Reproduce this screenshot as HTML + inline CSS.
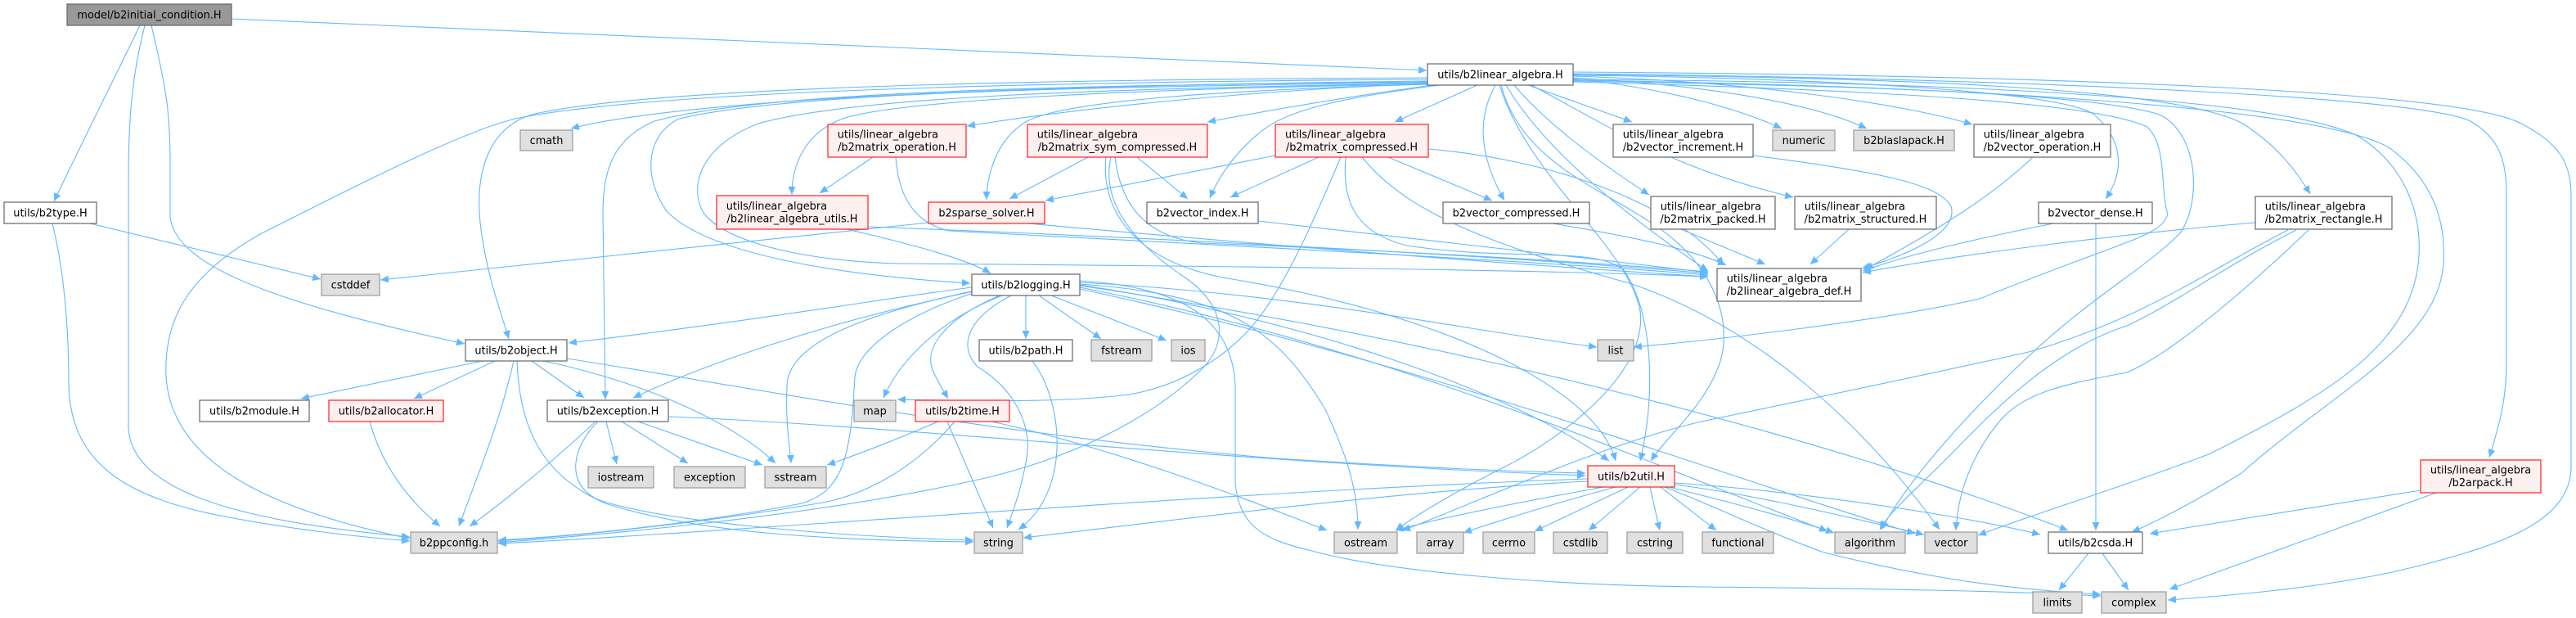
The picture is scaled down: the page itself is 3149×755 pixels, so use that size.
<!DOCTYPE html>
<html><head><meta charset="utf-8"><style>
html,body{margin:0;padding:0;background:#fff;}
svg{display:block;}
text{font-family:"DejaVu Sans","Liberation Sans",sans-serif;font-size:12.9px;fill:#000;}
.e{fill:none;stroke:#63b8ff;stroke-width:1.1;marker-end:url(#a);}
.n{fill:#fff;stroke:#666;stroke-width:1.2;}
.x{fill:#e0e0e0;stroke:#999;stroke-width:1.2;}
.r{fill:#fff0f0;stroke:#ff2020;stroke-width:1.2;}
.root{fill:#999;stroke:#666;stroke-width:1.2;}
</style></head><body>
<svg width="3149" height="755" viewBox="0 0 3149 755" xmlns="http://www.w3.org/2000/svg">
<defs><marker id="a" markerUnits="userSpaceOnUse" markerWidth="11" markerHeight="9" refX="10" refY="4.5" orient="auto"><path d="M0,0 L10,4.5 L0,9 z" fill="#63b8ff"/></marker></defs>
<g>
<!-- root -->
<path class="e" d="M283,23 C800,45 1300,68 1744,86"/>
<path class="e" d="M171,31 C150,75 112,150 66,246"/>
<path class="e" d="M177,31 C162,90 157,140 157,220 L157,520 C157,610 330,640 501,656"/>
<path class="e" d="M185,31 C204,110 208,140 208,200 L208,265 C215,330 360,375 568,420"/>
<!-- b2type -->
<path class="e" d="M110,273 L392,341"/>
<path class="e" d="M64,273 C78,330 84,400 84,470 C86,570 160,610 280,632 C360,647 430,655 501,661"/>
<!-- b2linear_algebra left -->
<path class="e" d="M1745,99 C1300,104 850,118 698,157"/>
<path class="e" d="M1745,97 C1300,100 800,110 630,145 C560,162 420,235 320,285 C230,335 200,390 203,460 C210,570 340,625 501,658"/>
<path class="e" d="M1745,95 C1300,97 800,105 650,140 C592,158 580,220 588,280 C596,340 612,380 622,414"/>
<path class="e" d="M1745,100 C1300,104 930,112 800,148 C748,170 737,210 737,260 L740,488"/>
<path class="e" d="M1745,101 C1300,106 960,114 830,145 C790,165 785,215 815,258 C860,305 1000,335 1186,346"/>
<path class="e" d="M1745,102 C1350,108 1050,118 930,150 C860,175 840,225 860,260 C890,300 1000,320 1100,322 C1500,325 1900,330 2088,338"/>
<path class="e" d="M1745,102 C1500,112 1300,135 1182,154"/>
<path class="e" d="M1745,103 C1400,108 1100,122 1030,145 C985,162 968,200 968,238"/>
<path class="e" d="M1750,104 C1650,118 1550,135 1476,149"/>
<path class="e" d="M1745,103 C1500,110 1320,122 1262,145 C1222,162 1206,210 1206,244"/>
<path class="e" d="M1760,104 C1650,118 1580,132 1545,158 C1512,183 1490,215 1479,242"/>
<!-- b2linear_algebra down -->
<path class="e" d="M1806,104 L1705,149"/>
<path class="e" d="M1828,104 C1808,140 1805,185 1839,245"/>
<path class="e" d="M1868,104 L1995,149"/>
<path class="e" d="M1851,104 C1890,150 1950,195 2016,238"/>
<path class="e" d="M1872,104 C1960,150 2040,205 2192,241"/>
<path class="e" d="M1841,104 C1880,170 1960,245 2088,331"/>
<path class="e" d="M1835,104 C1860,200 1960,230 2030,280 C2100,330 2120,400 2100,450 C2080,500 2040,530 2018,563"/>
<path class="e" d="M1833,104 C1870,220 1990,300 2005,380 C2015,460 1900,540 1840,570 C1780,600 1730,630 1706,648"/>
<!-- b2linear_algebra right -->
<path class="e" d="M1923,96 C2050,110 2130,135 2178,157"/>
<path class="e" d="M1923,95 C2100,105 2220,128 2282,157"/>
<path class="e" d="M1923,93 C2150,100 2330,128 2411,152"/>
<path class="e" d="M1923,92 C2200,95 2520,110 2560,140 C2592,168 2600,205 2574,243"/>
<path class="e" d="M1923,91 C2300,95 2650,105 2740,150 C2780,175 2805,205 2824,237"/>
<path class="e" d="M1923,90 C2400,95 2950,115 3020,148 C3058,170 3064,200 3064,240 L3064,440 C3064,490 3055,520 3043,559"/>
<path class="e" d="M1923,88 C2500,92 3000,110 3080,150 C3130,175 3143,200 3143,240 L3143,570 C3143,640 3050,670 2920,700 C2820,720 2720,728 2650,733"/>
<path class="e" d="M1923,97 C2400,100 2780,120 2880,165 C2940,200 2960,260 2957,313 C2950,420 2850,480 2700,555 C2580,600 2480,630 2418,654"/>
<path class="e" d="M1923,98 C2400,105 2830,130 2920,180 C2975,220 2990,270 2987,322 C2980,420 2850,480 2740,578 C2680,615 2630,640 2606,650"/>
<path class="e" d="M1923,99 C2300,105 2560,115 2640,140 C2690,165 2690,250 2665,285 C2620,330 2560,360 2480,435 C2400,510 2330,590 2300,647"/>
<path class="e" d="M1923,100 C2300,110 2560,125 2625,155 C2650,180 2640,230 2650,262 C2640,290 2600,292 2420,365 C2300,392 2100,415 1997,424"/>
<!-- b2logging -->
<path class="e" d="M1254,361 L1254,414"/>
<path class="e" d="M1270,361 L1346,414"/>
<path class="e" d="M1285,361 L1426,416"/>
<path class="e" d="M1225,361 C1150,390 1100,440 1080,486"/>
<path class="e" d="M1222,361 C1165,385 1128,420 1140,452 C1148,470 1155,480 1159,487"/>
<path class="e" d="M1236,361 C1180,390 1172,425 1195,448 C1240,475 1262,520 1255,560 C1248,600 1238,625 1231,645"/>
<path class="e" d="M1188,351 C1100,362 900,395 695,419"/>
<path class="e" d="M1190,356 C1000,395 850,450 774,486"/>
<path class="e" d="M1192,355 C1050,385 965,420 962,470 C960,520 966,550 967,566"/>
<path class="e" d="M1190,358 C1120,380 1050,420 1045,460 C1040,560 1030,600 980,615 C850,640 700,655 609,660"/>
<path class="e" d="M1320,345 C1600,360 1800,405 1952,424"/>
<path class="e" d="M1320,347 C1500,360 1560,400 1620,500 C1648,560 1660,600 1660,647"/>
<path class="e" d="M1320,348 C1600,390 1850,480 1967,563"/>
<path class="e" d="M1320,351 C1700,425 2000,560 2234,649"/>
<path class="e" d="M1320,353 C1750,445 2100,580 2341,652"/>
<path class="e" d="M1320,349 C1800,420 2250,540 2528,648"/>
<path class="e" d="M1320,343 C1430,350 1505,380 1510,470 L1510,590 C1515,640 1540,658 1600,672 C1700,700 1900,715 2080,717 C2300,719 2450,722 2568,728"/>
<!-- b2object -->
<path class="e" d="M590,441 L368,487"/>
<path class="e" d="M605,441 L506,487"/>
<path class="e" d="M628,441 C610,520 580,590 561,643"/>
<path class="e" d="M650,441 L714,486"/>
<path class="e" d="M665,441 C800,470 900,520 948,566"/>
<path class="e" d="M693,438 C900,470 1200,530 1560,560 C1750,572 1850,576 1938,578"/>
<path class="e" d="M632,441 C635,520 660,580 740,615 C850,650 1000,660 1190,662"/>
<!-- b2exception -->
<path class="e" d="M741,515 L754,567"/>
<path class="e" d="M760,515 L841,566"/>
<path class="e" d="M780,515 L932,568"/>
<path class="e" d="M728,515 C680,560 620,610 574,643"/>
<path class="e" d="M817,509 C1100,520 1500,565 1938,581"/>
<path class="e" d="M731,515 C700,545 690,590 730,610 C800,635 1000,655 1190,660"/>
<!-- allocator -->
<path class="e" d="M452,515 C470,580 510,620 538,643"/>
<!-- utils / matrix_operation -->
<path class="e" d="M1035,280 C1100,295 1180,315 1211,334"/>
<path class="e" d="M1061,277 C1400,290 1800,310 2088,334"/>
<path class="e" d="M1067,192 L1002,236"/>
<path class="e" d="M1095,192 C1098,230 1110,270 1160,282 C1500,300 1900,320 2088,336"/>
<!-- sym_compressed -->
<path class="e" d="M1330,192 L1234,243"/>
<path class="e" d="M1390,192 L1452,243"/>
<path class="e" d="M1358,192 C1345,250 1390,300 1450,340 C1500,375 1500,420 1470,450 C1420,500 1330,555 1200,585 C1000,630 750,652 609,663"/>
<path class="e" d="M1363,192 C1370,250 1400,290 1470,297 C1800,310 2000,325 2088,332"/>
<path class="e" d="M1352,192 C1345,260 1390,320 1500,340 C1750,380 1950,470 1975,563"/>
<!-- sparse / vindex -->
<path class="e" d="M1135,272 L465,342"/>
<path class="e" d="M1257,273 C1500,295 1800,320 2088,338"/>
<path class="e" d="M1538,270 C1700,290 1900,310 2088,333"/>
<!-- matrix_compressed -->
<path class="e" d="M1559,190 L1278,245"/>
<path class="e" d="M1612,192 L1504,241"/>
<path class="e" d="M1697,192 L1824,245"/>
<path class="e" d="M1746,182 C1900,195 2050,250 2107,324"/>
<path class="e" d="M1645,192 C1640,250 1660,285 1720,300 C1850,320 1950,300 1985,330 C2020,380 2025,480 2005,563"/>
<path class="e" d="M1665,192 C1720,260 1820,298 1995,347 C2150,400 2280,520 2371,647"/>
<path class="e" d="M1639,192 C1610,260 1580,330 1545,380 C1510,430 1450,470 1380,482 C1300,492 1200,490 1097,488"/>
<!-- others into def -->
<path class="e" d="M1898,273 C2000,290 2070,305 2110,324"/>
<path class="e" d="M2143,190 C2300,210 2370,225 2385,252 C2395,285 2330,312 2276,328"/>
<path class="e" d="M2055,280 L2158,323"/>
<path class="e" d="M2260,280 L2213,323"/>
<path class="e" d="M2510,273 C2450,285 2350,305 2277,331"/>
<path class="e" d="M2562,273 L2562,648"/>
<path class="e" d="M2485,192 C2440,235 2380,275 2280,329"/>
<path class="e" d="M2757,272 C2600,285 2400,310 2277,333"/>
<path class="e" d="M2807,281 C2720,325 2660,370 2600,398 C2500,430 2420,520 2380,560 C2340,600 2310,625 2298,647"/>
<path class="e" d="M2822,281 C2760,340 2660,430 2600,455 C2520,470 2470,480 2440,520 C2405,565 2393,610 2391,648"/>
<path class="e" d="M2797,281 C2700,330 2620,390 2480,430 C2300,470 2150,500 2080,515 C1950,545 1780,625 1714,648"/>
<!-- arpack / csda -->
<path class="e" d="M2959,599 L2628,652"/>
<path class="e" d="M2978,602 L2652,720"/>
<path class="e" d="M2553,676 L2517,721"/>
<path class="e" d="M2570,676 L2602,721"/>
<!-- b2time -->
<path class="e" d="M1158,515 L1214,645"/>
<path class="e" d="M1147,515 C1100,535 1050,555 1011,568"/>
<path class="e" d="M1167,515 C1120,570 1060,605 1000,615 C850,640 700,655 609,661"/>
<path class="e" d="M1212,515 C1350,545 1500,600 1622,648"/>
<!-- b2path -->
<path class="e" d="M1262,441 C1300,490 1310,600 1245,647"/>
<!-- b2util -->
<path class="e" d="M1941,585 C1500,600 900,650 609,664"/>
<path class="e" d="M1960,595 C1850,615 1750,635 1706,648"/>
<path class="e" d="M1975,595 C1900,615 1820,640 1789,651"/>
<path class="e" d="M1990,595 L1876,649"/>
<path class="e" d="M2005,595 L1942,648"/>
<path class="e" d="M2017,595 L2029,648"/>
<path class="e" d="M2030,595 L2098,648"/>
<path class="e" d="M2040,595 C2100,610 2180,630 2242,651"/>
<path class="e" d="M2047,592 C2150,605 2250,630 2352,653"/>
<path class="e" d="M2047,590 C2200,600 2400,630 2494,653"/>
<path class="e" d="M2035,595 C2100,620 2160,650 2230,675 C2350,705 2450,720 2568,726"/>
<path class="e" d="M1941,588 C1700,600 1400,640 1251,657"/>
</g>
<g>
<!-- nodes -->
<rect class="root" x="82" y="5" width="201" height="26"/><text x="182.5" y="22.7" text-anchor="middle">model/b2initial_condition.H</text>
<rect class="n" x="1745" y="78" width="178" height="26"/><text x="1834" y="95.7" text-anchor="middle">utils/b2linear_algebra.H</text>
<rect class="n" x="5" y="247" width="113" height="26"/><text x="61.5" y="264.7" text-anchor="middle">utils/b2type.H</text>
<rect class="x" x="393" y="335" width="71" height="26"/><text x="428.5" y="352.7" text-anchor="middle">cstddef</text>
<rect class="x" x="636" y="159" width="64" height="25"/><text x="668" y="176.2" text-anchor="middle">cmath</text>
<rect class="n" x="569" y="415" width="124" height="26"/><text x="631" y="432.7" text-anchor="middle">utils/b2object.H</text>
<rect class="n" x="244" y="489" width="134" height="26"/><text x="311" y="506.7" text-anchor="middle">utils/b2module.H</text>
<rect class="r" x="402" y="489" width="140" height="26"/><text x="472" y="506.7" text-anchor="middle">utils/b2allocator.H</text>
<rect class="n" x="669" y="489" width="148" height="26"/><text x="743" y="506.7" text-anchor="middle">utils/b2exception.H</text>
<rect class="x" x="719" y="570" width="80" height="26"/><text x="759" y="587.7" text-anchor="middle">iostream</text>
<rect class="x" x="824" y="570" width="87" height="26"/><text x="867.5" y="587.7" text-anchor="middle">exception</text>
<rect class="x" x="935" y="570" width="75" height="26"/><text x="972.5" y="587.7" text-anchor="middle">sstream</text>
<rect class="x" x="502" y="650" width="106" height="26"/><text x="555" y="667.7" text-anchor="middle">b2ppconfig.h</text>
<rect class="r" x="1135" y="247" width="142" height="26"/><text x="1206" y="264.7" text-anchor="middle">b2sparse_solver.H</text>
<rect class="n" x="1402" y="247" width="136" height="26"/><text x="1470" y="264.7" text-anchor="middle">b2vector_index.H</text>
<rect class="n" x="1188" y="335" width="132" height="26"/><text x="1254" y="352.7" text-anchor="middle">utils/b2logging.H</text>
<rect class="n" x="1197" y="415" width="114" height="26"/><text x="1254" y="432.7" text-anchor="middle">utils/b2path.H</text>
<rect class="x" x="1334" y="415" width="74" height="26"/><text x="1371" y="432.7" text-anchor="middle">fstream</text>
<rect class="x" x="1432" y="415" width="41" height="26"/><text x="1452.5" y="432.7" text-anchor="middle">ios</text>
<rect class="x" x="1044" y="489" width="51" height="26"/><text x="1069.5" y="506.7" text-anchor="middle">map</text>
<rect class="r" x="1119" y="489" width="115" height="26"/><text x="1176.5" y="506.7" text-anchor="middle">utils/b2time.H</text>
<rect class="x" x="1191" y="650" width="59" height="26"/><text x="1220.5" y="667.7" text-anchor="middle">string</text>
<rect class="n" x="1764" y="247" width="179" height="26"/><text x="1853.5" y="264.7" text-anchor="middle">b2vector_compressed.H</text>
<rect class="x" x="1953" y="415" width="44" height="26"/><text x="1975" y="432.7" text-anchor="middle">list</text>
<rect class="r" x="1941" y="569" width="106" height="26"/><text x="1994" y="586.7" text-anchor="middle">utils/b2util.H</text>
<rect class="x" x="1631" y="650" width="77" height="26"/><text x="1669.5" y="667.7" text-anchor="middle">ostream</text>
<rect class="x" x="1732" y="650" width="57" height="26"/><text x="1760.5" y="667.7" text-anchor="middle">array</text>
<rect class="x" x="1813" y="650" width="63" height="26"/><text x="1844.5" y="667.7" text-anchor="middle">cerrno</text>
<rect class="x" x="1899" y="650" width="66" height="26"/><text x="1932" y="667.7" text-anchor="middle">cstdlib</text>
<rect class="x" x="1989" y="650" width="68" height="26"/><text x="2023" y="667.7" text-anchor="middle">cstring</text>
<rect class="x" x="2081" y="650" width="87" height="26"/><text x="2124.5" y="667.7" text-anchor="middle">functional</text>
<rect class="x" x="2243" y="650" width="86" height="26"/><text x="2286" y="667.7" text-anchor="middle">algorithm</text>
<rect class="x" x="2353" y="650" width="64" height="26"/><text x="2385" y="667.7" text-anchor="middle">vector</text>
<rect class="n" x="2504" y="650" width="115" height="26"/><text x="2561.5" y="667.7" text-anchor="middle">utils/b2csda.H</text>
<rect class="x" x="2485" y="723" width="60" height="26"/><text x="2515" y="740.7" text-anchor="middle">limits</text>
<rect class="x" x="2569" y="723" width="79" height="26"/><text x="2608.5" y="740.7" text-anchor="middle">complex</text>
<rect class="n" x="2492" y="247" width="139" height="26"/><text x="2561.5" y="264.7" text-anchor="middle">b2vector_dense.H</text>
<rect class="x" x="2167" y="159" width="76" height="25"/><text x="2205" y="176.2" text-anchor="middle">numeric</text>
<rect class="x" x="2266" y="159" width="123" height="25"/><text x="2327.5" y="176.2" text-anchor="middle">b2blaslapack.H</text>
<!-- two-line nodes -->
<rect class="r" x="876" y="239" width="185" height="41"/><text x="887.7" y="255.8">utils/linear_algebra</text><text x="968.5" y="271.5" text-anchor="middle">/b2linear_algebra_utils.H</text>
<rect class="r" x="1012" y="152" width="169" height="40"/><text x="1023.7" y="168.5">utils/linear_algebra</text><text x="1096.5" y="184" text-anchor="middle">/b2matrix_operation.H</text>
<rect class="r" x="1256" y="152" width="220" height="40"/><text x="1267.7" y="168.5">utils/linear_algebra</text><text x="1366" y="184" text-anchor="middle">/b2matrix_sym_compressed.H</text>
<rect class="r" x="1559" y="152" width="187" height="40"/><text x="1571" y="168.5">utils/linear_algebra</text><text x="1652.5" y="184" text-anchor="middle">/b2matrix_compressed.H</text>
<rect class="n" x="1972" y="152" width="171" height="40"/><text x="1983.7" y="168.5">utils/linear_algebra</text><text x="2057.5" y="184" text-anchor="middle">/b2vector_increment.H</text>
<rect class="n" x="2018" y="240" width="152" height="40"/><text x="2029.7" y="256.5">utils/linear_algebra</text><text x="2094" y="272" text-anchor="middle">/b2matrix_packed.H</text>
<rect class="n" x="2099" y="328" width="176" height="40"/><text x="2110.7" y="344.5">utils/linear_algebra</text><text x="2187" y="360" text-anchor="middle">/b2linear_algebra_def.H</text>
<rect class="n" x="2194" y="240" width="173" height="40"/><text x="2205.7" y="256.5">utils/linear_algebra</text><text x="2280.5" y="272" text-anchor="middle">/b2matrix_structured.H</text>
<rect class="n" x="2413" y="152" width="167" height="40"/><text x="2424.7" y="168.5">utils/linear_algebra</text><text x="2496.5" y="184" text-anchor="middle">/b2vector_operation.H</text>
<rect class="n" x="2757" y="240" width="167" height="40"/><text x="2768.7" y="256.5">utils/linear_algebra</text><text x="2840.5" y="272" text-anchor="middle">/b2matrix_rectangle.H</text>
<rect class="r" x="2959" y="562" width="147" height="40"/><text x="3032.5" y="578.5" text-anchor="middle">utils/linear_algebra</text><text x="3032.5" y="594" text-anchor="middle">/b2arpack.H</text>
</g>
</svg>
</body></html>
